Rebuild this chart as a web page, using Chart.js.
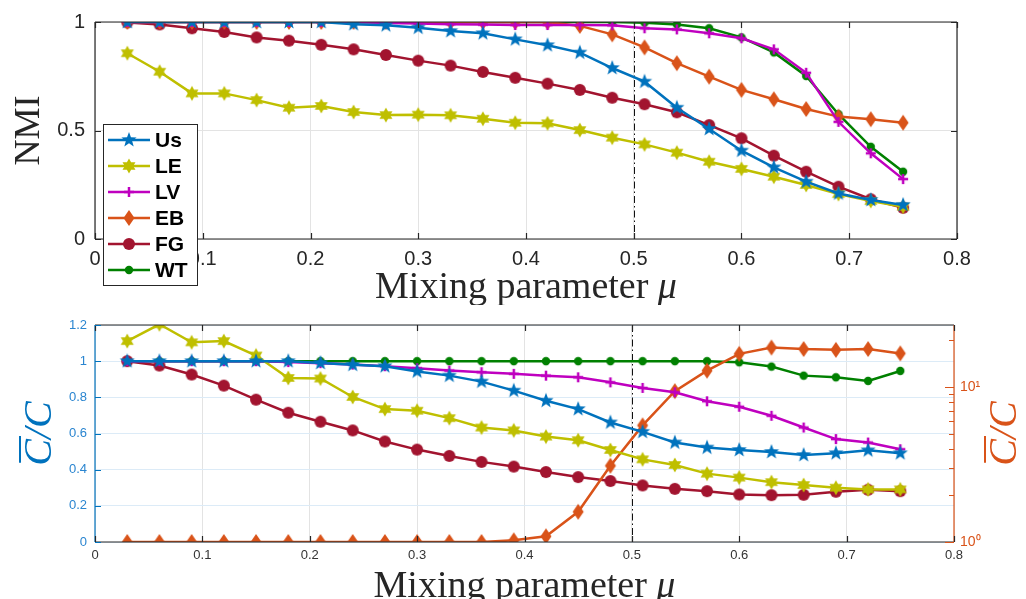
<!DOCTYPE html>
<html>
<head>
<meta charset="utf-8">
<script src="https://cdn.jsdelivr.net/npm/chart.js@4.4.0/dist/chart.umd.min.js"></script>
<style>
html, body { margin: 0; padding: 0; background: #fff; }
#top { position: absolute; left: 0; top: 0; width: 1026px; height: 305px; }
#bot { position: absolute; left: 0; top: 305px; width: 1026px; height: 294px; }
</style>
</head>
<body>
<div id="top"><canvas id="nmiChart"></canvas></div>
<div id="bot"><canvas id="ratioChart"></canvas></div>
<script>
// mixing parameter values (x)
var mu = [0.03, 0.06, 0.09, 0.12, 0.15, 0.18, 0.21, 0.24, 0.27, 0.30, 0.33, 0.36, 0.39,
          0.42, 0.45, 0.48, 0.51, 0.54, 0.57, 0.60, 0.63, 0.66, 0.69, 0.72, 0.75];

// top panel: NMI
var nmiUs = [1, 1, 1, 1, 1, 1, 1, 0.99, 0.985, 0.974, 0.958, 0.948, 0.92, 0.893, 0.859, 0.788, 0.725, 0.605, 0.507, 0.407, 0.33, 0.264, 0.21, 0.18, 0.157];
var nmiLE = [0.856, 0.771, 0.671, 0.671, 0.64, 0.605, 0.613, 0.585, 0.571, 0.573, 0.57, 0.554, 0.536, 0.533, 0.502, 0.467, 0.436, 0.398, 0.356, 0.323, 0.287, 0.249, 0.207, 0.175, 0.149];
var nmiLV = [1, 1, 1, 1, 1, 1, 1, 1, 0.995, 0.993, 0.99, 0.988, 0.986, 0.986, 0.986, 0.985, 0.971, 0.966, 0.948, 0.925, 0.874, 0.766, 0.54, 0.395, 0.276];
var nmiEB = [1, 1, 1, 1, 1, 1, 1, 1, 1, 1, 1, 1, 1, 1, 0.982, 0.943, 0.883, 0.81, 0.748, 0.687, 0.644, 0.599, 0.564, 0.552, 0.536];
var nmiFG = [0.998, 0.989, 0.971, 0.954, 0.929, 0.914, 0.895, 0.874, 0.848, 0.822, 0.799, 0.77, 0.743, 0.716, 0.687, 0.651, 0.621, 0.584, 0.525, 0.464, 0.384, 0.31, 0.241, 0.183, 0.144];
var nmiWT = [1, 1, 1, 1, 1, 1, 1, 1, 1, 1, 1, 1, 1, 1, 1, 1, 0.997, 0.989, 0.971, 0.929, 0.86, 0.751, 0.575, 0.425, 0.31];

// bottom panel: C-bar / C  (EB on the right log axis)
var cUs = [1, 1, 1, 1, 1, 1, 0.99, 0.98, 0.972, 0.943, 0.92, 0.887, 0.837, 0.781, 0.735, 0.661, 0.609, 0.55, 0.522, 0.509, 0.498, 0.481, 0.491, 0.507, 0.491];
var cLE = [1.111, 1.204, 1.104, 1.111, 1.031, 0.907, 0.904, 0.802, 0.735, 0.726, 0.685, 0.633, 0.617, 0.583, 0.563, 0.509, 0.457, 0.426, 0.378, 0.356, 0.331, 0.315, 0.30, 0.291, 0.291];
var cLV = [1, 1, 1, 1, 1, 0.995, 0.989, 0.981, 0.972, 0.961, 0.948, 0.939, 0.93, 0.92, 0.911, 0.883, 0.852, 0.828, 0.778, 0.748, 0.698, 0.633, 0.569, 0.55, 0.513];
var cEB = [1, 1, 1, 1, 1, 1, 1, 1, 1, 1, 1, 1, 1.025, 1.088, 1.565, 3.1, 5.64, 9.37, 12.7, 16.3, 17.9, 17.5, 17.3, 17.5, 16.4];
var cFG = [1, 0.976, 0.926, 0.865, 0.787, 0.715, 0.665, 0.617, 0.556, 0.511, 0.476, 0.443, 0.417, 0.387, 0.359, 0.337, 0.313, 0.294, 0.281, 0.263, 0.259, 0.261, 0.278, 0.289, 0.281];
var cWT = [1, 1, 1, 1, 1, 1, 1, 1, 1, 1, 1, 1, 1, 1, 1, 1, 1, 1, 1, 0.994, 0.97, 0.92, 0.911, 0.891, 0.946];

// tick labels
var xTicks = [0, 0.1, 0.2, 0.3, 0.4, 0.5, 0.6, 0.7, 0.8];
var nmiTicks = [0, 0.5, 1];
var leftTicks = [0, 0.2, 0.4, 0.6, 0.8, 1, 1.2];
var rightTicks = [1, 2, 3, 4, 5, 6, 7, 8, 9, 10, 20];

var methods = ['Us', 'LE', 'LV', 'EB', 'FG', 'WT'];
var colors = {
    Us: '#0072BD',
    LE: '#BFBF00',
    LV: '#BF00BF',
    EB: '#D95319',
    FG: '#A2142F',
    WT: '#008000'
};
var BLUE_TXT = '#2a85d0';

// plain number labels (0, 0.5, 1 ...) like MATLAB
function plain(v) { return String(+Number(v).toFixed(2)); }

// marker images, roughly the MATLAB glyphs
function makeMarker(kind, color) {
    var c = document.createElement('canvas');
    c.width = c.height = 20;
    var g = c.getContext('2d');
    var cx = 10, cy = 10;
    g.fillStyle = color;
    g.strokeStyle = color;
    g.beginPath();
    if (kind === 'pentagram' || kind === 'hexagram') {
        var n = kind === 'pentagram' ? 5 : 6;
        var ro = kind === 'pentagram' ? 8 : 7.5;
        var ri = kind === 'pentagram' ? 3.3 : 4.2;
        for (var i = 0; i < 2 * n; i++) {
            var r = i % 2 ? ri : ro;
            var a = -Math.PI / 2 + i * Math.PI / n;
            g.lineTo(cx + r * Math.cos(a), cy + r * Math.sin(a));
        }
        g.closePath();
        g.fill();
    } else if (kind === 'plus') {
        g.lineWidth = 2.5;
        g.moveTo(cx - 5, cy); g.lineTo(cx + 5, cy);
        g.moveTo(cx, cy - 5); g.lineTo(cx, cy + 5);
        g.stroke();
    } else if (kind === 'diamond') {
        g.moveTo(cx, cy - 8); g.lineTo(cx + 5.5, cy); g.lineTo(cx, cy + 8); g.lineTo(cx - 5.5, cy);
        g.closePath();
        g.fill();
    } else if (kind === 'circle') {
        g.arc(cx, cy, 6, 0, Math.PI * 2);
        g.fill();
    } else if (kind === 'dot') {
        g.arc(cx, cy, 4.2, 0, Math.PI * 2);
        g.fill();
    }
    return c;
}

var markerKind = { Us: 'pentagram', LE: 'hexagram', LV: 'plus', EB: 'diamond', FG: 'circle', WT: 'dot' };
var markers = {};
methods.forEach(function(m) { markers[m] = makeMarker(markerKind[m], colors[m]); });

function series(name, arr, extra) {
    var ds = {
        label: name,
        data: mu.map(function(x, i) { return { x: x, y: arr[i] }; }),
        borderColor: colors[name],
        backgroundColor: colors[name],
        borderWidth: 2.5,
        pointStyle: markers[name],
        pointRadius: 7,
        tension: 0
    };
    return Object.assign(ds, extra || {});
}

// dash-dot line at mu = 0.5, box, inward ticks and titles
var framePlugin = {
    id: 'frame',
    beforeDatasetsDraw: function(chart) {
        var ctx = chart.ctx, a = chart.chartArea, x = chart.scales.x.getPixelForValue(0.5);
        ctx.save();
        ctx.strokeStyle = '#111';
        ctx.lineWidth = 1;
        ctx.setLineDash([7, 3, 1.5, 3]);
        ctx.beginPath();
        ctx.moveTo(Math.round(x) + 0.5, a.top);
        ctx.lineTo(Math.round(x) + 0.5, a.bottom);
        ctx.stroke();
        ctx.restore();
    },
    afterDraw: function(chart) {
        var ctx = chart.ctx, a = chart.chartArea;
        var o = chart.options.plugins.frame;
        ctx.save();
        ctx.lineWidth = 1.2;
        ctx.strokeStyle = '#262626';
        ctx.beginPath();
        ctx.moveTo(a.left, a.top); ctx.lineTo(a.right, a.top);
        ctx.moveTo(a.left, a.bottom); ctx.lineTo(a.right, a.bottom);
        ctx.stroke();
        ctx.strokeStyle = o.leftColor;
        ctx.beginPath(); ctx.moveTo(a.left, a.top); ctx.lineTo(a.left, a.bottom); ctx.stroke();
        ctx.strokeStyle = o.rightColor;
        ctx.beginPath(); ctx.moveTo(a.right, a.top); ctx.lineTo(a.right, a.bottom); ctx.stroke();

        // inward ticks
        var sx = chart.scales.x;
        ctx.strokeStyle = '#262626';
        ctx.beginPath();
        sx.ticks.forEach(function(t, i) {
            var p = Math.round(sx.getPixelForTick(i)) + 0.5;
            ctx.moveTo(p, a.bottom); ctx.lineTo(p, a.bottom - 6);
            ctx.moveTo(p, a.top); ctx.lineTo(p, a.top + 6);
        });
        ctx.stroke();
        var sy = chart.scales.y;
        ctx.strokeStyle = o.leftColor;
        ctx.beginPath();
        sy.ticks.forEach(function(t, i) {
            var p = Math.round(sy.getPixelForTick(i)) + 0.5;
            ctx.moveTo(a.left, p); ctx.lineTo(a.left + 6, p);
            if (!chart.scales.y2) { ctx.moveTo(a.right, p); ctx.lineTo(a.right - 6, p); }
        });
        ctx.stroke();
        var s2 = chart.scales.y2;
        if (s2) {
            ctx.strokeStyle = o.rightColor;
            ctx.beginPath();
            s2.ticks.forEach(function(t, i) {
                var p = Math.round(s2.getPixelForTick(i)) + 0.5;
                var len = (t.value === 1 || t.value === 10) ? 9 : 5;
                ctx.moveTo(a.right, p); ctx.lineTo(a.right - len, p);
            });
            ctx.stroke();
        }

        // x axis title: "Mixing parameter" + italic mu
        var cx = (a.left + a.right) / 2;
        var f1 = '38px "Liberation Serif"', f2 = 'italic 38px "Liberation Serif"';
        ctx.font = f1;
        var w1 = ctx.measureText('Mixing parameter ').width;
        ctx.font = f2;
        var w2 = ctx.measureText('\u03BC').width;
        var x0 = cx - (w1 + w2) / 2;
        ctx.fillStyle = '#262626';
        ctx.textBaseline = 'alphabetic';
        ctx.textAlign = 'left';
        ctx.font = f1;
        ctx.fillText('Mixing parameter ', x0, o.titleY);
        ctx.font = f2;
        ctx.fillText('\u03BC', x0 + w1, o.titleY);

        // y titles drawn as C-bar/C, reading upwards
        (o.yTitles || []).forEach(function(yt) {
            ctx.save();
            ctx.translate(yt.x, (a.top + a.bottom) / 2);
            ctx.rotate(-Math.PI / 2);
            ctx.font = 'italic 40px "Liberation Serif"';
            ctx.fillStyle = yt.color;
            ctx.strokeStyle = yt.color;
            ctx.textAlign = 'left';
            ctx.textBaseline = 'alphabetic';
            var tw = ctx.measureText('C/C').width;
            var cw = ctx.measureText('C').width;
            ctx.fillText('C/C', -tw / 2, 13);
            ctx.lineWidth = 2;
            ctx.beginPath();
            ctx.moveTo(-tw / 2 + 3, -18);
            ctx.lineTo(-tw / 2 + cw + 3, -18);
            ctx.stroke();
            ctx.restore();
        });
        ctx.restore();
    }
};

// MATLAB style legend box in the lower left of the top panel
var legendPlugin = {
    id: 'boxLegend',
    afterDraw: function(chart) {
        var ctx = chart.ctx;
        ctx.save();
        ctx.fillStyle = '#fff';
        ctx.fillRect(103, 124, 94, 161);
        ctx.strokeStyle = '#262626';
        ctx.lineWidth = 1;
        ctx.strokeRect(103.5, 124.5, 94, 161);
        chart.data.datasets.forEach(function(ds, i) {
            var y = 140 + i * 26;
            ctx.strokeStyle = ds.borderColor;
            ctx.lineWidth = 2.5;
            ctx.beginPath();
            ctx.moveTo(108, y); ctx.lineTo(150, y);
            ctx.stroke();
            ctx.drawImage(ds.pointStyle, 129 - 10, y - 10);
            ctx.fillStyle = '#000';
            ctx.font = 'bold 21px "Liberation Sans"';
            ctx.textBaseline = 'middle';
            ctx.fillText(ds.label, 155, y + 1);
        });
        ctx.restore();
    }
};

function xScale(fontSize, height, color) {
    return {
        type: 'linear', min: 0, max: 0.8,
        afterBuildTicks: function(s) { s.ticks = xTicks.map(function(v) { return { value: v }; }); },
        afterFit: function(s) { s.height = height; },
        grid: { color: '#e3e3e3', drawTicks: false },
        border: { display: false },
        ticks: { font: { family: 'Liberation Sans', size: fontSize }, color: color, padding: fontSize > 15 ? 8 : 6, maxRotation: 0, callback: plain }
    };
}

new Chart(document.getElementById('nmiChart'), {
    type: 'line',
    data: {
        datasets: [
            series('Us', nmiUs), series('LE', nmiLE), series('LV', nmiLV),
            series('EB', nmiEB), series('FG', nmiFG), series('WT', nmiWT)
        ]
    },
    options: {
        responsive: true,
        maintainAspectRatio: false,
        animation: false,
        layout: { padding: { top: 22, right: 69, left: 0, bottom: 0 } },
        plugins: {
            legend: { display: false },
            tooltip: { enabled: false },
            frame: { leftColor: '#262626', rightColor: '#262626', titleY: 298 }
        },
        scales: {
            x: xScale(20, 66, '#262626'),
            y: {
                min: 0, max: 1,
                afterBuildTicks: function(s) { s.ticks = nmiTicks.map(function(v) { return { value: v }; }); },
                afterFit: function(s) { s.width = 95; },
                grid: { color: '#e3e3e3', drawTicks: false },
                border: { display: false },
                ticks: { font: { family: 'Liberation Sans', size: 20 }, color: '#262626', padding: 10, callback: plain },
                title: { display: true, text: 'NMI', color: '#262626', font: { family: 'Liberation Serif', size: 36 }, padding: { top: 8, bottom: 0 } }
            }
        }
    },
    plugins: [framePlugin, legendPlugin]
});

new Chart(document.getElementById('ratioChart'), {
    type: 'line',
    data: {
        datasets: [
            series('Us', cUs), series('LE', cLE), series('LV', cLV),
            series('EB', cEB, { yAxisID: 'y2', clip: 0 }), series('FG', cFG), series('WT', cWT)
        ]
    },
    options: {
        responsive: true,
        maintainAspectRatio: false,
        animation: false,
        layout: { padding: { top: 20, right: 0, left: 0, bottom: 0 } },
        plugins: {
            legend: { display: false },
            tooltip: { enabled: false },
            frame: {
                leftColor: '#0072BD', rightColor: '#D95319', titleY: 292,
                yTitles: [{ x: 38, color: '#0072BD' }, { x: 1003, color: '#D95319' }]
            }
        },
        scales: {
            x: xScale(13, 57, '#333'),
            y: {
                min: 0, max: 1.2,
                afterBuildTicks: function(s) { s.ticks = leftTicks.map(function(v) { return { value: v }; }); },
                afterFit: function(s) { s.width = 95; },
                grid: { color: '#dcebf7', drawTicks: false },
                border: { display: false },
                ticks: { font: { family: 'Liberation Sans', size: 13 }, color: BLUE_TXT, padding: 8, callback: plain }
            },
            y2: {
                type: 'logarithmic', position: 'right', min: 1, max: 25,
                afterBuildTicks: function(s) { s.ticks = rightTicks.map(function(v) { return { value: v }; }); },
                afterFit: function(s) { s.width = 72; },
                grid: { drawOnChartArea: false, drawTicks: false },
                border: { display: false },
                ticks: {
                    autoSkip: false,
                    font: { family: 'Liberation Sans', size: 14 }, color: '#D95319', padding: 6,
                    callback: function(v) { return v === 1 ? '10\u2070' : (v === 10 ? '10\u00B9' : ''); }
                }
            }
        }
    },
    plugins: [framePlugin]
});
</script>
</body>
</html>
